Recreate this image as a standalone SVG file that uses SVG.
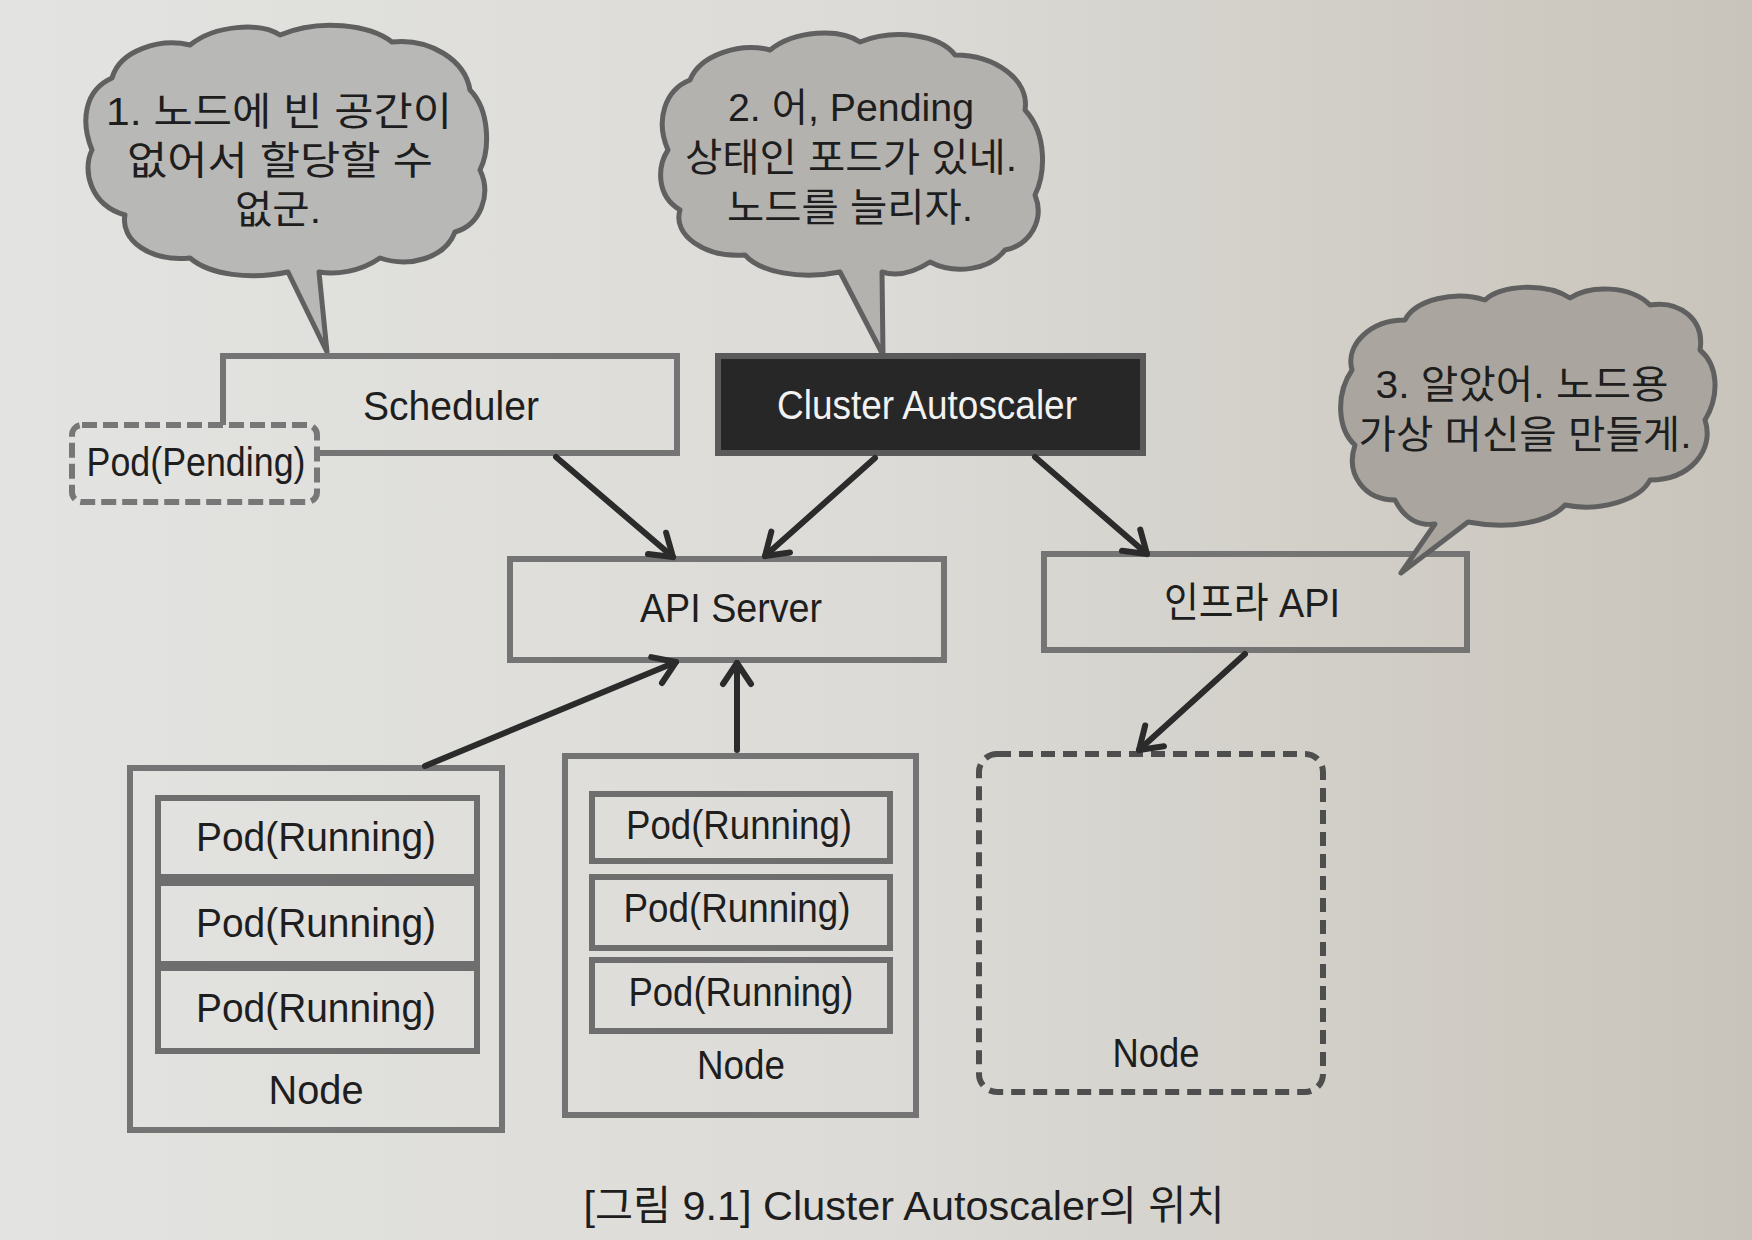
<svg xmlns="http://www.w3.org/2000/svg" width="1752" height="1240" viewBox="0 0 1752 1240">
<defs>
<linearGradient id="bg" gradientUnits="userSpaceOnUse" x1="0" y1="0" x2="1752" y2="0">
<stop offset="0" stop-color="#e3e3e1"/>
<stop offset="0.5" stop-color="#dcdbd7"/>
<stop offset="1" stop-color="#c9c4bb"/>
</linearGradient>
<marker id="ah" markerUnits="userSpaceOnUse" markerWidth="34" markerHeight="34" viewBox="0 0 34 34" refX="30" refY="17" orient="auto" overflow="visible">
<path d="M9,3 L30,17 L9,31" fill="none" stroke="#2b2b2b" stroke-width="6" stroke-linecap="round" stroke-linejoin="round"/>
</marker>
<style>
.lat{font-family:"Liberation Sans","Noto Sans CJK KR",sans-serif;font-size:41px;fill:#1e1e1e;text-anchor:middle}
.kr{font-family:"Liberation Sans","Noto Sans CJK KR",sans-serif;font-size:39px;fill:#1e1e1e;text-anchor:middle}
.box{fill:url(#bg);stroke:#747474;stroke-width:6}
.pod{fill:url(#bg);stroke:#6e6e6e;stroke-width:6}
.cloud{stroke:#606060;stroke-width:5;stroke-linejoin:round}
.arr{fill:none;stroke:#2b2b2b;stroke-width:6;stroke-linecap:round;marker-end:url(#ah)}
</style>
</defs>
<rect x="0" y="0" width="1752" height="1240" fill="url(#bg)"/>

<g id="bubble1">
<path class="cloud" fill="#b8b8b6" d="M288,272 C250,280 210,275 190,258 C150,262 120,240 125,215 C90,205 82,170 92,150 C80,120 85,90 112,78 C120,50 160,38 190,45 C215,25 260,22 280,35 C320,18 370,25 392,42 C430,38 465,60 470,90 C490,110 490,150 480,170 C492,195 480,225 455,232 C445,258 410,268 380,258 C360,272 335,275 319,272 L327,352 Z"/>
<text class="kr" x="279" y="125" textLength="346" lengthAdjust="spacingAndGlyphs">1. 노드에 빈 공간이</text>
<text class="kr" x="280" y="174" textLength="306" lengthAdjust="spacingAndGlyphs">없어서 할당할 수</text>
<text class="kr" x="278" y="223" textLength="86" lengthAdjust="spacingAndGlyphs">없군.</text>
</g>

<g id="bubble2">
<path class="cloud" fill="#b4b2ae" d="M840,272 C800,280 760,272 745,255 C705,258 672,235 680,210 C655,195 658,165 668,150 C655,120 665,90 690,80 C700,55 740,42 770,50 C795,30 840,28 860,42 C895,28 940,35 955,55 C995,55 1030,80 1025,110 C1048,135 1045,175 1035,195 C1045,220 1030,245 1005,250 C990,270 955,275 930,262 C910,275 895,276 882,272 L883,355 Z"/>
<text class="kr" x="851" y="121" textLength="246" lengthAdjust="spacingAndGlyphs">2. 어, Pending</text>
<text class="kr" x="851" y="171" textLength="332" lengthAdjust="spacingAndGlyphs">상태인 포드가 있네.</text>
<text class="kr" x="850" y="221" textLength="246" lengthAdjust="spacingAndGlyphs">노드를 늘리자.</text>
</g>

<g id="scheduler">
<rect class="box" x="223" y="356" width="454" height="97" stroke="#7c7c7c"/>
<text class="lat" x="451" y="420" textLength="176" lengthAdjust="spacingAndGlyphs">Scheduler</text>
</g>

<g id="pod-pending">
<rect x="72" y="425" width="245" height="77" rx="10" fill="url(#bg)" stroke="#777" stroke-width="6" stroke-dasharray="15,6"/>
<text class="lat" x="196" y="476" textLength="219" lengthAdjust="spacingAndGlyphs">Pod(Pending)</text>
</g>

<g id="cluster-autoscaler">
<rect x="718" y="356" width="425" height="97" fill="#272727" stroke="#5a5a5a" stroke-width="6"/>
<text class="lat" x="927" y="419" style="fill:#f2f2f2" textLength="300" lengthAdjust="spacingAndGlyphs">Cluster  Autoscaler</text>
</g>

<g id="api-server">
<rect class="box" x="510" y="559" width="434" height="101" stroke="#626262"/>
<text class="lat" x="731" y="622" textLength="182" lengthAdjust="spacingAndGlyphs">API Server</text>
</g>

<g id="infra-api">
<rect class="box" x="1044" y="554" width="423" height="96" stroke="#5e5e5e"/>
<text class="lat" x="1252" y="617" textLength="176" lengthAdjust="spacingAndGlyphs">인프라 API</text>
</g>

<g id="bubble3">
<path class="cloud" fill="#aaa69f" d="M1468,522 C1510,530 1550,522 1565,505 C1600,512 1640,500 1650,480 C1690,480 1715,450 1705,420 C1720,395 1718,365 1700,350 C1705,320 1680,300 1650,305 C1630,285 1590,285 1570,298 C1545,282 1500,285 1485,300 C1455,290 1415,300 1405,320 C1370,320 1345,345 1352,370 C1335,395 1338,430 1355,445 C1345,475 1365,500 1395,500 C1405,520 1420,526 1435,524 L1401,573 Z"/>
<text class="kr" x="1522" y="398" textLength="293" lengthAdjust="spacingAndGlyphs">3. 알았어. 노드용</text>
<text class="kr" x="1525" y="448" textLength="333" lengthAdjust="spacingAndGlyphs">가상 머신을 만들게.</text>
</g>

<g id="node1">
<rect class="box" x="130" y="768" width="372" height="362" stroke="#7a7a7a" stroke-width="5"/>
<rect class="pod" x="158" y="798" width="319" height="79"/>
<text class="lat" x="316" y="851" textLength="240" lengthAdjust="spacingAndGlyphs">Pod(Running)</text>
<rect class="pod" x="158" y="883" width="319" height="81"/>
<text class="lat" x="316" y="937" textLength="240" lengthAdjust="spacingAndGlyphs">Pod(Running)</text>
<rect class="pod" x="158" y="968" width="319" height="83"/>
<text class="lat" x="316" y="1022" textLength="240" lengthAdjust="spacingAndGlyphs">Pod(Running)</text>
<text class="lat" x="316" y="1104" textLength="95" lengthAdjust="spacingAndGlyphs">Node</text>
</g>

<g id="node2">
<rect class="box" x="565" y="756" width="351" height="359" stroke="#707070" stroke-width="5"/>
<rect class="pod" x="592" y="794" width="298" height="67"/>
<text class="lat" x="739" y="839" textLength="226" lengthAdjust="spacingAndGlyphs">Pod(Running)</text>
<rect class="pod" x="592" y="877" width="298" height="71"/>
<text class="lat" x="737" y="922" textLength="227" lengthAdjust="spacingAndGlyphs">Pod(Running)</text>
<rect class="pod" x="592" y="960" width="298" height="71"/>
<text class="lat" x="741" y="1006" textLength="225" lengthAdjust="spacingAndGlyphs">Pod(Running)</text>
<text class="lat" x="741" y="1079" textLength="88" lengthAdjust="spacingAndGlyphs">Node</text>
</g>

<g id="node-new">
<rect x="979" y="754" width="344" height="338" rx="18" fill="none" stroke="#4e4e4e" stroke-width="6" stroke-dasharray="14,8"/>
<text class="lat" x="1156" y="1067" textLength="87" lengthAdjust="spacingAndGlyphs">Node</text>
</g>

<g id="connectors">
<line class="arr" x1="556" y1="457" x2="673" y2="557"/>
<line class="arr" x1="875" y1="458" x2="765" y2="556"/>
<line class="arr" x1="1035" y1="457" x2="1147" y2="554"/>
<line class="arr" x1="425" y1="766" x2="676" y2="662"/>
<line class="arr" x1="737" y1="750" x2="737" y2="663"/>
<line class="arr" x1="1245" y1="654" x2="1139" y2="750"/>
</g>

<g id="caption">
<text class="lat" x="904" y="1220" textLength="641" lengthAdjust="spacingAndGlyphs">[그림 9.1] Cluster Autoscaler의 위치</text>
</g>
</svg>
